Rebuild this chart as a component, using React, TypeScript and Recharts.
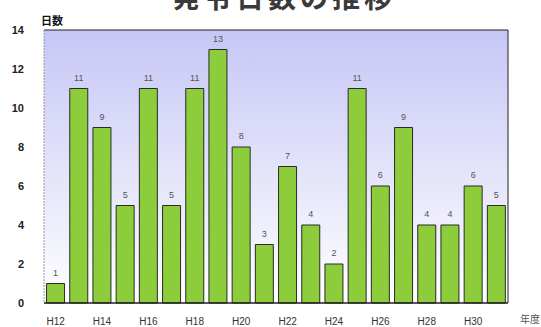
import { Bar, BarChart, CartesianGrid, LabelList, ReferenceLine, XAxis, YAxis } from 'recharts';

// fiscal years (Heisei era) and the number of days per year
const years = [
  'H12', 'H13', 'H14', 'H15', 'H16', 'H17', 'H18', 'H19', 'H20', 'H21',
  'H22', 'H23', 'H24', 'H25', 'H26', 'H27', 'H28', 'H29', 'H30', 'R1',
];
const days = [1, 11, 9, 5, 11, 5, 11, 13, 8, 3, 7, 4, 2, 11, 6, 9, 4, 4, 6, 5];
const yTicks = [0, 2, 4, 6, 8, 10, 12, 14];

const data = years.map((year, i) => ({ year, days: days[i] }));

const font = '"Liberation Sans", Arial, "Noto Sans CJK JP", sans-serif';

export default function App() {
  return (
    <div style={{ position: 'absolute', left: 0, top: 0, width: 541, height: 327, background: '#fff', fontFamily: font }}>
      {/* title, clipped by the top of the frame */}
      <div
        style={{
          position: 'absolute',
          left: 0,
          top: -21,
          width: 568,
          textAlign: 'center',
          fontSize: 28,
          fontWeight: 'bold',
          letterSpacing: 4,
          color: '#3a3a3a',
          fontFamily: '"Noto Sans CJK JP", sans-serif',
          lineHeight: '34px',
        }}
      >
        発令日数の推移
      </div>
      <div style={{ position: 'absolute', left: 41, top: 12, fontSize: 11, fontWeight: 'bold', color: '#111', fontFamily: '"Noto Sans CJK JP", sans-serif' }}>
        日数
      </div>
      <BarChart
        width={541}
        height={327}
        data={data}
        margin={{ top: 30, right: 33, bottom: 0, left: 14 }}
        barCategoryGap="11%"
      >
        <defs>
          <linearGradient id="bg" x1="0" y1="0" x2="0" y2="1">
            <stop offset="0%" stopColor="#c6c6f6" />
            <stop offset="100%" stopColor="#ffffff" />
          </linearGradient>
        </defs>
        <CartesianGrid horizontal={false} vertical={false} fill="url(#bg)" />
        <XAxis
          dataKey="year"
          height={24}
          interval={1}
          tickLine={false}
          tickMargin={9}
          axisLine={{ stroke: '#222', strokeWidth: 1.5 }}
          tick={{ fontSize: 10, fill: '#333' }}
          label={{ value: '年度', position: 'right', offset: 12, fontSize: 10, fill: '#555', dy: 4 }}
        />
        <YAxis
          width={30}
          domain={[0, 14]}
          ticks={yTicks}
          tickLine={false}
          tickMargin={14}
          axisLine={{ stroke: '#999', strokeDasharray: '2 1' }}
          tick={{ fontSize: 11, fontWeight: 'bold', fill: '#222' }}
        />
        {/* frame: top edge and the right edge after the last band */}
        <ReferenceLine y={14} stroke="#222" strokeWidth={1.2} />
        <ReferenceLine x={years[years.length - 1]} position="end" stroke="#222" strokeWidth={1} />
        <Bar dataKey="days" fill="#8dcd3c" stroke="#2a2a2a" strokeWidth={1} isAnimationActive={false}>
          <LabelList dataKey="days" position="top" offset={8} fontSize={9} fill="#555" />
        </Bar>
      </BarChart>
    </div>
  );
}
